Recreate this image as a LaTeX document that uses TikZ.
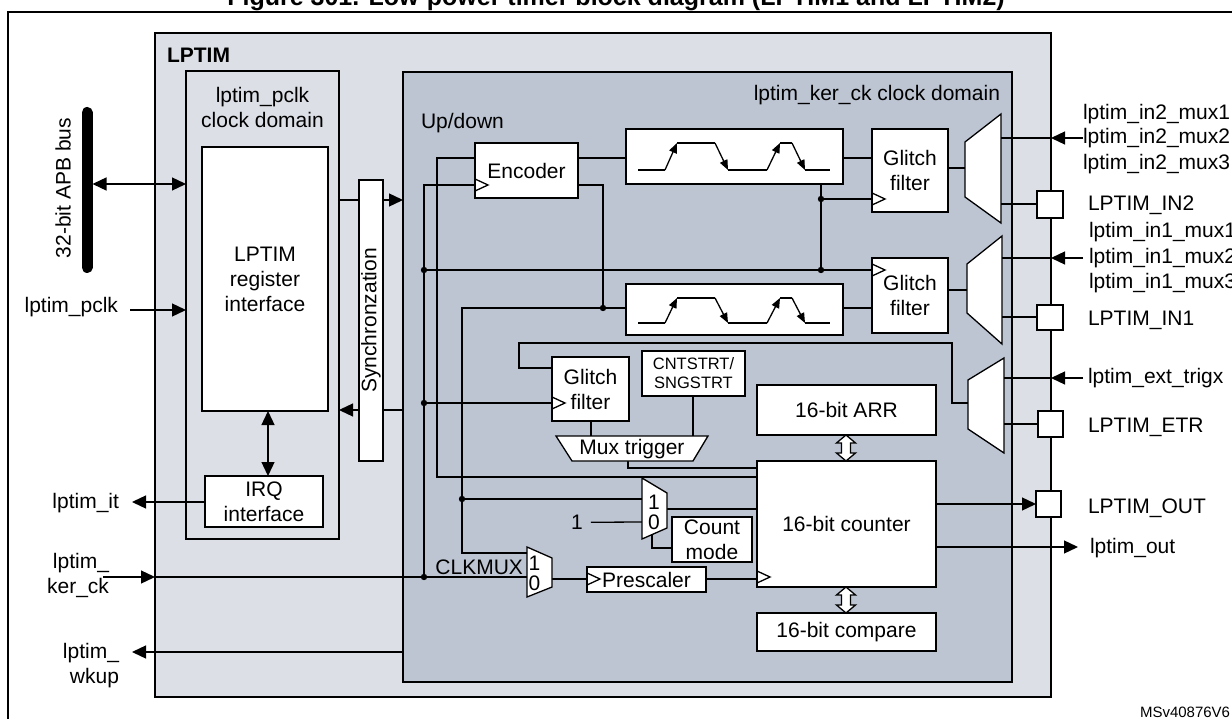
\documentclass[tikz,border=0pt]{standalone}
\usepackage{fontspec}
\setmainfont{Liberation Sans}
\usetikzlibrary{arrows.meta}
\definecolor{lpfill}{RGB}{220,223,229}
\definecolor{kerfill}{RGB}{189,197,211}
\tikzset{
  every node/.style={font=\fontsize{21}{25}\selectfont, inner sep=0pt, outer sep=0pt},
  wire/.style={line width=1.3pt},
  dom/.style={draw, line width=2.6pt, anchor=north west},
  blk/.style={draw, fill=white, line width=1.3pt, anchor=north west, align=center},
  padbox/.style={draw, fill=white, line width=1.3pt, anchor=north west},
  arr/.style={wire, -{Triangle[length=14pt,width=13pt]}},
  dblarr/.style={wire, {Triangle[length=14pt,width=13pt]}-{Triangle[length=14pt,width=13pt]}},
  edgearr/.style={wire, -{Triangle[length=10pt,width=8pt]}},
  lbl/.style={anchor=base west},
  muxshape/.style={draw, fill=white, line width=1.3pt, line join=miter},
  hollow/.style={draw, fill=white, line width=1.3pt, line join=miter}
}
\begin{document}
\begin{tikzpicture}[x=1pt,y=-1pt]
\useasboundingbox (0,0) rectangle (1232,719);
\clip (0,0) rectangle (1232,719);

% title and frame
\node[font=\bfseries\fontsize{25}{28}\selectfont, anchor=base] (title) at (616,6) {Figure 301. Low-power timer block diagram (LPTIM1 and LPTIM2)};
\draw[line width=2pt] (8,12) rectangle (1260,740);

% domains
\node[dom, fill=lpfill, minimum width=896pt, minimum height=664pt] (lptim) at (155,33) {};
\node[font=\bfseries\fontsize{21}{25}\selectfont, anchor=base west] (lptimname) at (167,63) {LPTIM};
\node[dom, fill=lpfill, minimum width=153pt, minimum height=468pt] (pclkdom) at (186,71) {};
\node[align=center, anchor=north] (pclkname) at (262.5,87) {lptim\_pclk\\clock domain};
\node[dom, fill=kerfill, minimum width=609pt, minimum height=610pt] (kerdom) at (403,72) {};
\node[anchor=base east] (kername) at (1000,101) {lptim\_ker\_ck clock domain};
\node[anchor=base west] (updown) at (421,129) {Up/down};

% pclk domain content
\node[blk, minimum width=126pt, minimum height=264pt] (reg) at (202,147) {LPTIM\\register\\interface};
\node[blk, minimum width=118pt, minimum height=51pt] (irq) at (205,476) {IRQ\\interface};
\draw[dblarr] (reg.south -| 268,0) -- (irq.north -| 268,0);

% APB bus
\draw[line width=11pt, line cap=round] (87,112.5) coordinate (bustop) -- (87,267.5) coordinate (busbot);
\node[rotate=90] (buslbl) at (63,188) {32-bit APB bus};
\coordinate (busport) at (92.5,184);
\draw[dblarr] (busport) -- (busport -| pclkdom.west);

% left side signals
\node[anchor=base east] (pclklbl) at (118,313) {lptim\_pclk};
\coordinate (pclkin) at (130,310);
\draw[arr] (pclkin) -- (pclkin -| pclkdom.west);
\node[anchor=base east] (itlbl) at (119,508) {lptim\_it};
\coordinate (itend) at (132,502);
\draw[arr] (irq.west |- itend) -- (itend);
\node[align=right, anchor=north east] (kerlbl) at (109,553) {lptim\_\\ker\_ck};
\coordinate (kerin) at (103,577);
\draw[arr] (kerin) -- (kerin -| lptim.west);
\node[align=right, anchor=north east] (wklbl) at (119,643) {lptim\_\\wkup};
\coordinate (wkend) at (132,652);
\draw[arr] (wkend -| kerdom.west) -- (wkend);

% synchronization
\draw[arr] (pclkdom.east |- 0,200) -- (kerdom.west |- 0,200);
\draw[arr] (kerdom.west |- 0,410) -- (pclkdom.east |- 0,410);
\node[blk, minimum width=24pt, minimum height=281pt] (sync) at (359,180) {};
\node[rotate=90] (synctext) at (sync.center) {Synchronzation};

% ker domain blocks
\node[blk, minimum width=103pt, minimum height=55pt] (enc) at (475,143) {Encoder};
\node[blk, minimum width=217pt, minimum height=55pt] (edge1) at (626,129) {};
\node[blk, minimum width=217pt, minimum height=51pt] (edge2) at (626,284) {};
\node[blk, minimum width=76pt, minimum height=83pt] (gf1) at (872,129) {Glitch\\filter};
\node[blk, minimum width=76pt, minimum height=75pt] (gf2) at (872,258) {Glitch\\filter};
\node[blk, minimum width=77pt, minimum height=64pt] (gf3) at (552,357) {Glitch\\filter};
\node[blk, minimum width=103pt, minimum height=45pt, font=\fontsize{16.5}{19}\selectfont] (cnt) at (642,351) {CNTSTRT/\\SNGSTRT};
\node[blk, minimum width=179pt, minimum height=50pt] (arrreg) at (757,385) {16-bit ARR};
\node[blk, minimum width=179pt, minimum height=126pt] (counter) at (757,461) {16-bit counter};
\node[blk, minimum width=179pt, minimum height=38pt] (compare) at (757,613) {16-bit compare};
\node[blk, minimum width=80pt, minimum height=45pt] (cntmode) at (672,517) {Count\\mode};
\node[blk, minimum width=119pt, minimum height=25pt] (presc) at (587,567) {Prescaler};

% mux ports and junctions
\coordinate (m1in) at (1001,138); \coordinate (m1pad) at (1001,204); \coordinate (m1out) at (965,168);
\coordinate (m2in) at (1002,258); \coordinate (m2pad) at (1002,317); \coordinate (m2out) at (967,290);
\coordinate (m3in) at (1004,378); \coordinate (m3pad) at (1004,424); \coordinate (m3out) at (968,403);
\coordinate (km1) at (642,499); \coordinate (km0) at (642,522); \coordinate (kmout) at (667,509); \coordinate (kmsel) at (652,535);
\coordinate (cm1) at (527,553); \coordinate (cm0) at (527,577); \coordinate (cmout) at (552,579);
\coordinate (mtin1) at (591,436); \coordinate (mtin2) at (693,436); \coordinate (mtout) at (628,461);
\coordinate (jA) at (424,270); \coordinate (jB) at (424,403); \coordinate (jC) at (424,577);
\coordinate (jD) at (603,308); \coordinate (jE) at (462,499); \coordinate (jF) at (821,199); \coordinate (jG) at (821,270);

% wiring
\draw[wire] (kerin -| lptim.west) -- (cm0);
\draw[wire] (enc.east |- 0,158) -- (edge1.west |- 0,158);
\draw[wire] (enc.east |- 0,185) -- (603,185) -- (jD);
\draw[wire] (edge2.west |- 0,308) -- (462,308) -- (462,553) -- (cm1);
\draw[wire] (jE) -- (km1);
\node[anchor=base] (one) at (577,529.5) {1};
\draw[wire] ([xshift=8pt]one.east) -- (km0);
\draw[wire] (kmout) -- (kmout -| counter.west);
\draw[wire] (kmsel) -- (652,548) -- (cntmode.west |- 0,548);
\draw[wire] (enc.west |- 0,158) -- (437,158) -- (437,477) -- (counter.west |- 0,477);
\draw[wire] (jC) -- (424,185) -- (enc.west |- 0,185);
\draw[wire] (jA) -- (gf2.west |- jA);
\draw[wire] (edge1.south -| jF) -- (jG);
\draw[wire] (jF) -- (gf1.west |- jF);
\draw[wire] (edge1.east |- 0,158) -- (gf1.west |- 0,158);
\draw[wire] (edge2.east |- 0,308) -- (gf2.west |- 0,308);
\draw[wire] (gf1.east |- m1out) -- (m1out);
\draw[wire] (gf2.east |- m2out) -- (m2out);
\draw[wire] (m3out) -- (952,403) -- (952,343) -- (519,343) -- (519,368) -- (gf3.west |- 0,368);
\draw[wire] (jB) -- (gf3.west |- jB);
\draw[wire] (gf3.south -| mtin1) -- (mtin1);
\draw[wire] (cnt.south -| mtin2) -- (mtin2);
\draw[wire] (mtout) -- (628,468) -- (counter.west |- 0,468);
\draw[wire] (cmout) -- (presc.west |- cmout);
\draw[wire] (presc.east |- cmout) -- (counter.west |- cmout);

% waveforms in edge detectors
\foreach \b/\h in {170/143, 323/298} {
  \draw[wire] (638,\b) -- (665,\b);
  \draw[edgearr] (665,\b) -- (677,\h);
  \draw[wire] (677,\h) -- (715,\h);
  \draw[edgearr] (715,\h) -- (728,\b);
  \draw[wire] (728,\b) -- (767,\b);
  \draw[edgearr] (767,\b) -- (780,\h);
  \draw[wire] (780,\h) -- (792,\h);
  \draw[edgearr] (792,\h) -- (805,\b);
  \draw[wire] (805,\b) -- (830,\b);
}

% clock triangles
\foreach \p in {(475,179),(872,193),(872,264),(552,397),(587,573),(757,571)} {
  \draw[wire, line join=miter] \p -- ++(13,6) -- ++(-13,6);
}

% multiplexers
\draw[muxshape] (965,142) -- (1001,114) -- (1001,223) -- (965,197) -- cycle;
\draw[muxshape] (967,264) -- (1002,236) -- (1002,344) -- (967,313) -- cycle;
\draw[muxshape] (968,380) -- (1004,358) -- (1004,453) -- (968,429) -- cycle;
\draw[muxshape] (642,478) -- (667,493) -- (667,528) -- (642,539) -- cycle;
\node[anchor=base] (km1lbl) at (654,509) {1};
\node[anchor=base] (km0lbl) at (654,529) {0};
\draw[muxshape] (527,547) -- (552,558) -- (552,587) -- (527,597) -- cycle;
\node[anchor=base] (cm1lbl) at (534.5,570) {1};
\node[anchor=base] (cm0lbl) at (534.5,590) {0};
\node[anchor=base east] (clkmuxlbl) at (523,574) {CLKMUX};
\draw[muxshape] (556,436) -- (708,436) -- (693,461) -- (572,461) -- cycle;
\node (muxtrig) at (632,449) {Mux trigger};

% hollow double arrows
\foreach \t/\b in {435/461, 587/613} {
  \draw[hollow] (846,\t) -- (855.5,\t+8) -- (850.5,\t+8) -- (850.5,\b-8) -- (855.5,\b-8) -- (846,\b)
     -- (836.5,\b-8) -- (841.5,\b-8) -- (841.5,\t+8) -- (836.5,\t+8) -- cycle;
}

% right side pads and inputs
\node[padbox, minimum width=26pt, minimum height=27pt] (padin2) at (1037,191) {};
\node[padbox, minimum width=26pt, minimum height=25pt] (padin1) at (1037,305) {};
\node[padbox, minimum width=25pt, minimum height=26pt] (padetr) at (1038,411) {};
\node[padbox, minimum width=25pt, minimum height=26pt] (padout) at (1036,491) {};
\draw[wire] (m1pad) -- (m1pad -| padin2.west);
\draw[wire] (m2pad) -- (m2pad -| padin1.west);
\draw[wire] (m3pad) -- (m3pad -| padetr.west);

\node[lbl] (in2a) at (1083,120) {lptim\_in2\_mux1};
\node[lbl] (in2b) at (1083,144) {lptim\_in2\_mux2};
\node[lbl] (in2c) at (1083,169.5) {lptim\_in2\_mux3};
\node[lbl] (in2pad) at (1088,211) {LPTIM\_IN2};
\node[lbl] (in1a) at (1089,238) {lptim\_in1\_mux1};
\node[lbl] (in1b) at (1089,263.5) {lptim\_in1\_mux2};
\node[lbl] (in1c) at (1089,289) {lptim\_in1\_mux3};
\node[lbl] (in1pad) at (1088,326) {LPTIM\_IN1};
\node[lbl] (trig) at (1088,384) {lptim\_ext\_trigx};
\node[lbl] (etr) at (1088,432) {LPTIM\_ETR};
\node[lbl] (outpad) at (1088,513) {LPTIM\_OUT};
\node[lbl] (outsig) at (1090,553) {lptim\_out};

\draw[arr] (1083,138) -- (lptim.east |- m1in);
\draw[wire] (lptim.east |- m1in) -- (m1in);
\draw[arr] (1083,258) -- (lptim.east |- m2in);
\draw[wire] (lptim.east |- m2in) -- (m2in);
\draw[arr] (1083,378) -- (lptim.east |- m3in);
\draw[wire] (lptim.east |- m3in) -- (m3in);

\draw[arr] (padout.west -| counter.east) -- (padout.west);
\coordinate (outend) at (1078,547);
\draw[arr] (counter.east |- outend) -- (outend);

% junction dots
\foreach \p in {jA,jB,jC,jD,jE,jF,jG} { \fill (\p) circle[radius=3.2pt]; }

\node[anchor=base west, font=\fontsize{15}{18}\selectfont] (msv) at (1140,717) {MSv40876V6};
\end{tikzpicture}
\end{document}
